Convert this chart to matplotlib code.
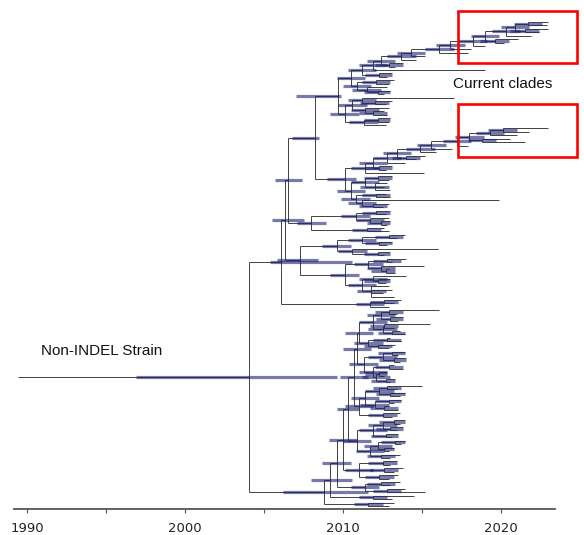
import re
import matplotlib
matplotlib.use("Agg")
import matplotlib.pyplot as plt
from matplotlib.collections import LineCollection
from matplotlib.patches import Rectangle

# --- tree data (times are years after 2000; "t[lo:hi]" = node age with 95% HPD) ---
clade_current1 = ("((((((((((((23.0,22.9)21.7,(23.0,22.4)21.5)20.9,21.9)20.3,(21.1,20.2)19.6)19.0,"
                  "19.0)18.2,18.1)16.8,17.9)16.1,15.2)14.3,14.6)13.7,(13.8,13.3)12.9)12.4,19.0)11.9,"
                  "(13.1,12.8)12.3)11.2")
clade_upper_a = "((13.2,12.9)12.1,(12.8,(13.0,12.6)12.2)11.5)10.9"
clade_upper_b = "(((17.0,(13.1,12.7)12.0)11.2,(12.9,(12.6,12.8)11.9)11.4)10.6,((13.0,12.9)12.2,12.7)11.3)10.1"
clade_current2 = ("((((((((((23.0,21.8)20.1,21.0)19.3,(20.6,21.5)18.8)18.0,17.9)17.2,16.9)15.6,"
                  "15.9)14.9,(15.2,14.6)14.0)13.4,13.9)12.8,(13.1,12.7)12.3)11.9,15.1)11.4")
clade_mid = "(((13.1,12.9)12.2,(12.8,12.6,13.0)12.0)11.4,((12.7,13.0)12.1,(19.9,(12.9,12.5)11.9)11.2)10.8)10.5"
clade_p1 = "(((13.0,12.7)12.1,(12.9,(13.0,12.8)12.4)11.7)10.8,(12.6,12.9)11.5)8.0"
clade_p2 = "((13.9,13.4)12.9,(13.1,12.8)12.3)11.2"
clade_p3 = "(16.0,(13.0,12.6)12.2)10.6"
clade_p4 = ("(((14.0,13.1)12.8,(15.1,(12.9,13.3)12.7)12.4)11.6,"
            "((14.0,(13.0,12.7)12.2)11.9,(12.9,13.1,12.5,13.2)11.8)11.2)10.1")
clade_p5 = "((13.7,13.2)12.6,12.9)11.7"

clade_q1 = ("((((16.1,13.4)12.9,(13.8,13.5)13.0)12.4,((15.5,13.2)12.6,(13.6,13.9)13.1)12.5)11.9,"
            "((13.0,13.7)12.8,(13.3,12.9)12.2)11.6)11.0")
clade_q2 = "(((13.9,13.5)13.1,(14.0,13.6)13.2)12.5,((13.2,13.8)12.9,((12.8,12.6)12.3,(13.3,13.0)12.7)12.1)11.9)11.3"
clade_q3 = ("((((15.0,13.4)12.8,(13.9,13.6)13.0)12.3,((13.7,13.2)12.9,(12.9,13.5)12.6)12.0)11.4,"
            "(13.6,13.1)12.5)11.0")
clade_q4 = ("((((13.9,13.6)13.2,(13.8,13.4)13.0)12.5,(13.5,13.1)12.7)11.9,"
            "(((13.9,13.7)13.3,(13.2,12.9)12.6)12.2,(13.6,13.0)12.4)11.7)10.9")
clade_q5 = "((13.4,13.0)12.5,(13.8,13.2)12.6,(13.5,12.9)12.3)11.0"
clade_q6 = "((13.6,13.0)12.4,(13.9,15.2)12.8)11.4"
clade_q7 = "(14.5,13.1)11.9"
clade_q8 = "(13.2,12.9)11.6"

upper = f"(({clade_current1},{clade_upper_a})10.5,{clade_upper_b})9.7[7.0:9.9]"
middle = f"({clade_current2},{clade_mid})10.1[9.0:10.8]"
top_w = f"(({upper},{middle})8.2[6.8:8.5],{clade_p1})6.5[5.7:7.4]"
top_v = f"(({clade_p2},{clade_p3})9.6,{clade_p4})7.3[5.8:8.4]"
top = f"(({top_w},{top_v})6.3[5.5:7.5],{clade_p5})6.1[5.4:10.6]"
bottom = (f"((((((({clade_q1},{clade_q2})10.9,{clade_q3})10.7,{clade_q4})10.3[9.6:11.0],{clade_q5})10.0,"
          f"{clade_q6})9.6,{clade_q7})9.2[8.0:10.6],{clade_q8})8.8[6.2:11.6]")
tree_text = f"({top},{bottom})4.05[-3.1:9.6]"
root_branch_start = -10.6

tick_years = [1990, 2000, 2010, 2020]
minor_years = [1995, 2005, 2015]
box_spans = [(11, 63), (104, 157)]


def parse_newick(text):
    s = re.sub(r"\s+", "", text)
    pos = 0

    def read_node():
        nonlocal pos
        kids = []
        if s[pos] == "(":
            pos += 1
            kids.append(read_node())
            while s[pos] == ",":
                pos += 1
                kids.append(read_node())
            pos += 1
        m = re.match(r"(-?[\d.]+)(?:\[(-?[\d.]+):(-?[\d.]+)\])?", s[pos:])
        pos += m.end()
        node = {"t": float(m.group(1)), "kids": kids}
        if m.group(2):
            node["hpd"] = (float(m.group(2)), float(m.group(3)))
        return node

    return read_node()


root = parse_newick(tree_text)

# layout: tips evenly spaced top to bottom (pixel rows), nodes at mid of children
Y_TOP, Y_BOTTOM = 22, 506
tips = []


def collect(n):
    if not n["kids"]:
        tips.append(n)
    for k in n["kids"]:
        collect(k)


collect(root)
step = (Y_BOTTOM - Y_TOP) / (len(tips) - 1)
for i, tip in enumerate(tips):
    tip["y"] = Y_TOP + i * step
    tip["tmax"] = tip["t"]


def place(n):
    if n["kids"]:
        for k in n["kids"]:
            place(k)
        n["y"] = (n["kids"][0]["y"] + n["kids"][-1]["y"]) / 2
        n["tmax"] = max(k["tmax"] for k in n["kids"])


place(root)

BAR_HALF = 0.9
branches, verticals, bars = [], [], []


def walk(n, parent_t):
    if parent_t is not None:
        branches.append([(2000 + parent_t, n["y"]), (2000 + n["t"], n["y"])])
    if n["kids"]:
        verticals.append([(2000 + n["t"], n["kids"][0]["y"]), (2000 + n["t"], n["kids"][-1]["y"])])
        lo, hi = n.get("hpd", (n["t"] - BAR_HALF, min(n["t"] + BAR_HALF, n["tmax"])))
        bars.append([(2000 + lo, n["y"]), (2000 + hi, n["y"])])
        for k in n["kids"]:
            walk(k, n["t"])


walk(root, None)
branches.append([(2000 + root_branch_start, root["y"]), (2000 + root["t"], root["y"])])

fig = plt.figure(figsize=(5.84, 5.35), dpi=100)
ax = fig.add_axes([0, 26 / 535, 1, 509 / 535])
px_per_year = 15.8
ax.set_xlim(1990 - 27 / px_per_year, 1990 + 557 / px_per_year)
ax.set_ylim(509, 0)

ax.add_collection(LineCollection(branches + verticals, colors="#333333", linewidths=0.65, zorder=2))
ax.add_collection(LineCollection(bars, colors="#1c2370", linewidths=2.3, alpha=0.6,
                                 capstyle="butt", zorder=3))

for y0, y1 in box_spans:
    x0 = 1990 + (458 - 27) / px_per_year
    x1 = 1990 + (577 - 27) / px_per_year
    ax.add_patch(Rectangle((x0, y0), x1 - x0, y1 - y0, fill=False, edgecolor="#ff0000",
                           linewidth=1.9, zorder=5))

ax.text(1990 + (453 - 27) / px_per_year, 84, "Current clades", fontsize=11,
        family="Liberation Sans", va="center", ha="left", color="#111111")
ax.text(1990 + (41 - 27) / px_per_year, 351, "Non-INDEL Strain", fontsize=11,
        family="Liberation Sans", va="center", ha="left", color="#111111")

for side in ("left", "right", "top"):
    ax.spines[side].set_visible(False)
ax.spines["bottom"].set_bounds(1989.2, 2023.4)
ax.spines["bottom"].set_color("#555555")
ax.spines["bottom"].set_linewidth(1.3)
ax.set_yticks([])
ax.set_xticks(tick_years)
ax.set_xticks(minor_years, minor=True)
ax.tick_params(axis="x", which="major", length=3, width=0.8, color="#555555", pad=6, labelsize=9.5)
ax.tick_params(axis="x", which="minor", length=3, width=0.8, color="#555555")
for lab in ax.get_xticklabels():
    lab.set_family("DejaVu Sans")
    lab.set_color("#222222")

fig.savefig("out.png", dpi=100)
